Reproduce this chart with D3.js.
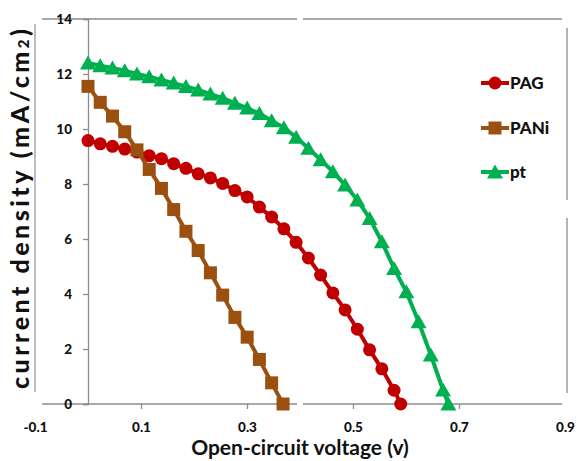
<!DOCTYPE html>
<html><head><meta charset="utf-8">
<script src="https://cdn.jsdelivr.net/npm/d3@7"></script>
<style>
html,body{margin:0;padding:0;background:#fff;}
svg{display:block;}
text{font-family:Lato,"Open Sans",sans-serif;fill:#111;}
</style></head>
<body>
<svg id="chart" width="577" height="461"></svg>
<script>
// ---- data ----
const seriesNames = ["PAG", "PANi", "pt"];
const pagV = [0,0.0231,0.0462,0.0693,0.0924,0.1155,0.1386,0.1617,0.1848,0.2079,0.231,0.2541,0.2772,0.3003,0.3234,0.3465,0.3696,0.3927,0.4158,0.4389,0.462,0.4851,0.5082,0.5313,0.5544,0.5775,0.590];
const pagJ = [9.58,9.46,9.37,9.27,9.16,9.03,8.92,8.74,8.57,8.37,8.22,8.02,7.76,7.53,7.16,6.80,6.37,5.88,5.31,4.69,4.04,3.42,2.72,1.97,1.28,0.50,0];
const paniV = [0,0.0231,0.0462,0.0693,0.0924,0.1155,0.1386,0.1617,0.1848,0.2079,0.231,0.2541,0.2772,0.3003,0.3234,0.3465,0.368];
const paniJ = [11.55,10.97,10.47,9.90,9.24,8.53,7.84,7.07,6.28,5.58,4.77,3.96,3.15,2.43,1.62,0.77,0];
const ptV = [0,0.0231,0.0462,0.0693,0.0924,0.1155,0.1386,0.1617,0.1848,0.2079,0.231,0.2541,0.2772,0.3003,0.3234,0.3465,0.3696,0.3927,0.4158,0.4389,0.462,0.4851,0.5082,0.5313,0.5544,0.5775,0.6006,0.6237,0.6468,0.6699,0.680];
const ptJ = [12.40,12.30,12.22,12.12,12.00,11.90,11.78,11.67,11.55,11.42,11.27,11.12,10.94,10.76,10.56,10.30,10.05,9.70,9.30,8.88,8.45,7.96,7.42,6.75,5.90,4.93,4.08,2.99,1.78,0.51,0];
const xTicks = [-0.1, 0.1, 0.3, 0.5, 0.7, 0.9];
const yTicks = [0, 2, 4, 6, 8, 10, 12, 14];
const xTitle = "Open-circuit voltage (v)";
const yTitleMain = "current density (mA/cm";
const yTitleSub = "2";
const yTitleEnd = ")";

// ---- styles ----
const colors = {PAG: "#C00000", PANi: "#9C5010", pt: "#00B050"};
const markers = {PAG: "circle", PANi: "square", pt: "triangle"};

const svg = d3.select("#chart");
const x = d3.scaleLinear().domain([-0.1, 0.9]).range([35, 565]);
const y = d3.scaleLinear().domain([0, 14]).range([404, 19]);
const axisColor = "#8c8c8c";

// frame lines (with the small breaks seen in the reference)
const frame = svg.append("g").attr("stroke", axisColor).attr("stroke-width", 1.3).attr("fill", "none");
[[42, 297], [303, 562]].forEach(([a, b]) => {
  frame.append("line").attr("x1", a).attr("x2", b).attr("y1", y(14)).attr("y2", y(14));
  frame.append("line").attr("x1", a).attr("x2", b).attr("y1", y(0)).attr("y2", y(0));
});
frame.append("line").attr("x1", 567).attr("x2", 567).attr("y1", 28).attr("y2", 200);
frame.append("line").attr("x1", 567).attr("x2", 567).attr("y1", 218).attr("y2", 393);
frame.append("line").attr("x1", 35).attr("x2", 35).attr("y1", 24).attr("y2", 392).attr("stroke", "#9a9a9a");

// y axis at x = 0
const yAxis = svg.append("g").attr("transform", `translate(${x(0)},0)`)
  .call(d3.axisLeft(y).tickValues(yTicks).tickSize(5).tickPadding(11).tickFormat(d3.format("d")));
yAxis.select(".domain").attr("stroke", axisColor).attr("stroke-width", 1.3);
yAxis.selectAll(".tick line").attr("stroke", axisColor).attr("stroke-width", 1.3);
yAxis.selectAll(".tick text").attr("font-family", "Lato, sans-serif").attr("font-weight", "900").attr("font-size", 13.5).attr("fill", "#111");

// x axis
const xAxis = svg.append("g").attr("transform", `translate(0,${y(0)})`)
  .call(d3.axisBottom(x).tickValues(xTicks).tickSize(5).tickPadding(13).tickFormat(d => d.toFixed(1).replace("\u2212", "-")));
xAxis.select(".domain").remove();
xAxis.selectAll(".tick line").attr("stroke", axisColor).attr("stroke-width", 1.3)
  .attr("opacity", d => (d < 0 || d > 0.8) ? 0 : 1);
xAxis.selectAll(".tick text").attr("font-family", "Lato, sans-serif").attr("font-weight", "900").attr("font-size", 13.5).attr("fill", "#111");

// series
const series = [
  {name: "PAG", v: pagV, j: pagJ},
  {name: "PANi", v: paniV, j: paniJ},
  {name: "pt", v: ptV, j: ptJ}
];
const line = d3.line().x(d => x(d[0])).y(d => y(d[1]));

function drawMarker(g, type, color) {
  if (type === "circle") g.append("circle").attr("r", 6.5).attr("fill", color);
  else if (type === "square") g.append("rect").attr("x", -6.5).attr("y", -6.5).attr("width", 13).attr("height", 13).attr("fill", color);
  else g.append("path").attr("d", "M0,-7.5L8,6.5L-8,6.5Z").attr("fill", color);
}

series.forEach(s => {
  const pts = s.v.map((v, i) => [v, s.j[i]]);
  const g = svg.append("g");
  g.append("path").attr("d", line(pts)).attr("fill", "none").attr("stroke", colors[s.name]).attr("stroke-width", 4);
  pts.forEach(p => {
    const m = g.append("g").attr("transform", `translate(${x(p[0])},${y(p[1])})`);
    drawMarker(m, markers[s.name], colors[s.name]);
  });
});

// legend
const legendY = [83, 128, 172];
seriesNames.forEach((n, i) => {
  const g = svg.append("g").attr("transform", `translate(481,${legendY[i]})`);
  g.append("line").attr("x1", 0).attr("x2", 28).attr("stroke", colors[n]).attr("stroke-width", 4);
  const m = g.append("g").attr("transform", "translate(14,0)");
  drawMarker(m, markers[n], colors[n]);
  g.append("text").attr("x", 29).attr("dy", "0.36em").attr("font-size", 17).attr("font-weight", "900").text(n);
});

// axis titles
svg.append("text").attr("x", 300).attr("y", 455).attr("text-anchor", "middle")
  .attr("font-size", 21).attr("font-weight", "700").text(xTitle);
const yt = svg.append("text").attr("transform", "translate(29,209) rotate(-90)").attr("text-anchor", "middle")
  .attr("font-size", 25).attr("font-weight", "900")
  .attr("textLength", 360).attr("lengthAdjust", "spacing");
yt.append("tspan").text(yTitleMain);
yt.append("tspan").attr("font-size", 15).text(yTitleSub);
yt.append("tspan").text(yTitleEnd);
</script>
</body></html>
